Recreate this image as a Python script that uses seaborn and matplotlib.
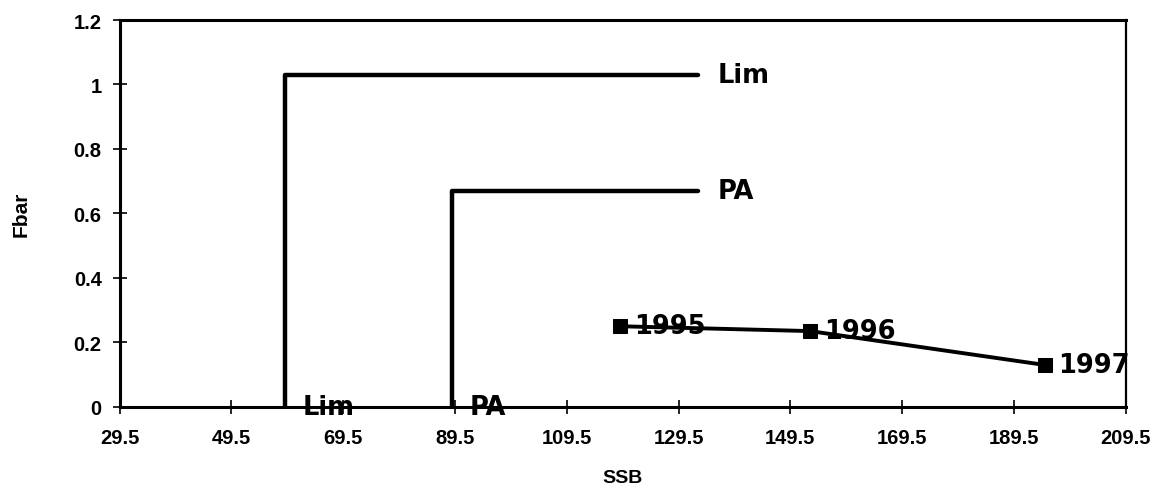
import matplotlib
matplotlib.use("Agg")
import matplotlib.pyplot as plt
import seaborn as sns
import pandas as pd

# ---- data ----
years = ["1995", "1996", "1997"]
ssb = [119.0, 153.0, 195.0]
fbar = [0.25, 0.235, 0.13]

lim_ssb = 59.0
lim_f = 1.03
pa_ssb = 89.0
pa_f = 0.67
ref_end = 133.0

x_ticks = [29.5, 49.5, 69.5, 89.5, 109.5, 129.5, 149.5, 169.5, 189.5, 209.5]
x_tick_labels = ["29.5", "49.5", "69.5", "89.5", "109.5", "129.5", "149.5", "169.5", "189.5", "209.5"]
y_ticks = [0, 0.2, 0.4, 0.6, 0.8, 1.0, 1.2]
y_tick_labels = ["0", "0.2", "0.4", "0.6", "0.8", "1", "1.2"]

sns.set_theme(style="ticks")
plt.rcParams["font.family"] = ["Liberation Sans", "DejaVu Sans"]
plt.rcParams["text.color"] = "black"
plt.rcParams["axes.labelcolor"] = "black"

fig = plt.figure(figsize=(11.51, 4.89), dpi=100)
ax = fig.add_axes([0.104, 0.166, 0.874, 0.791])

lim_df = pd.DataFrame({"x": [lim_ssb, lim_ssb, ref_end], "y": [0, lim_f, lim_f]})
pa_df = pd.DataFrame({"x": [pa_ssb, pa_ssb, ref_end], "y": [0, pa_f, pa_f]})
series_df = pd.DataFrame({"ssb": ssb, "fbar": fbar, "year": years})

sns.lineplot(data=lim_df, x="x", y="y", sort=False, color="black", linewidth=3.2, ax=ax, estimator=None)
sns.lineplot(data=pa_df, x="x", y="y", sort=False, color="black", linewidth=3.2, ax=ax, estimator=None)
sns.lineplot(data=series_df, x="ssb", y="fbar", sort=False, color="black", linewidth=2.8,
             marker="s", markersize=10.5, markeredgecolor="black", ax=ax, estimator=None)

lab_font = dict(family="DejaVu Sans", fontsize=18.5, fontweight="bold", color="black")

# reference labels
ax.text(ref_end + 3.5, lim_f, "Lim", va="center", ha="left", **lab_font)
ax.text(ref_end + 3.5, pa_f, "PA", va="center", ha="left", **lab_font)
ax.text(lim_ssb + 3.2, 0, "Lim", va="center", ha="left", clip_on=False, **lab_font)
ax.text(pa_ssb + 3.2, 0, "PA", va="center", ha="left", clip_on=False, **lab_font)

# year labels
for xv, yv, lab in zip(ssb, fbar, years):
    ax.text(xv + 2.5, yv, lab, va="center", ha="left", clip_on=False, **lab_font)

ax.set_xlim(29.5, 209.5)
ax.set_ylim(0, 1.2)
ax.set_xticks(x_ticks)
ax.set_xticklabels(x_tick_labels, fontsize=14.5, fontweight="bold")
ax.set_yticks(y_ticks)
ax.set_yticklabels(y_tick_labels, fontsize=14.5, fontweight="bold")
ax.tick_params(direction="inout", length=10, width=1.2, colors="black", pad=8)
ax.tick_params(axis="x", pad=10)
ax.set_xlabel("SSB", fontsize=14, fontweight="bold", labelpad=16, color="black")
ax.set_ylabel("Fbar", fontsize=15, fontweight="bold", labelpad=31, color="black")

for side in ["left", "bottom", "top"]:
    ax.spines[side].set_linewidth(2.2)
    ax.spines[side].set_color("black")
ax.spines["right"].set_visible(True)
ax.spines["right"].set_linewidth(1.6)
ax.spines["right"].set_color("black")

fig.savefig("out.png", dpi=100, facecolor="white")
